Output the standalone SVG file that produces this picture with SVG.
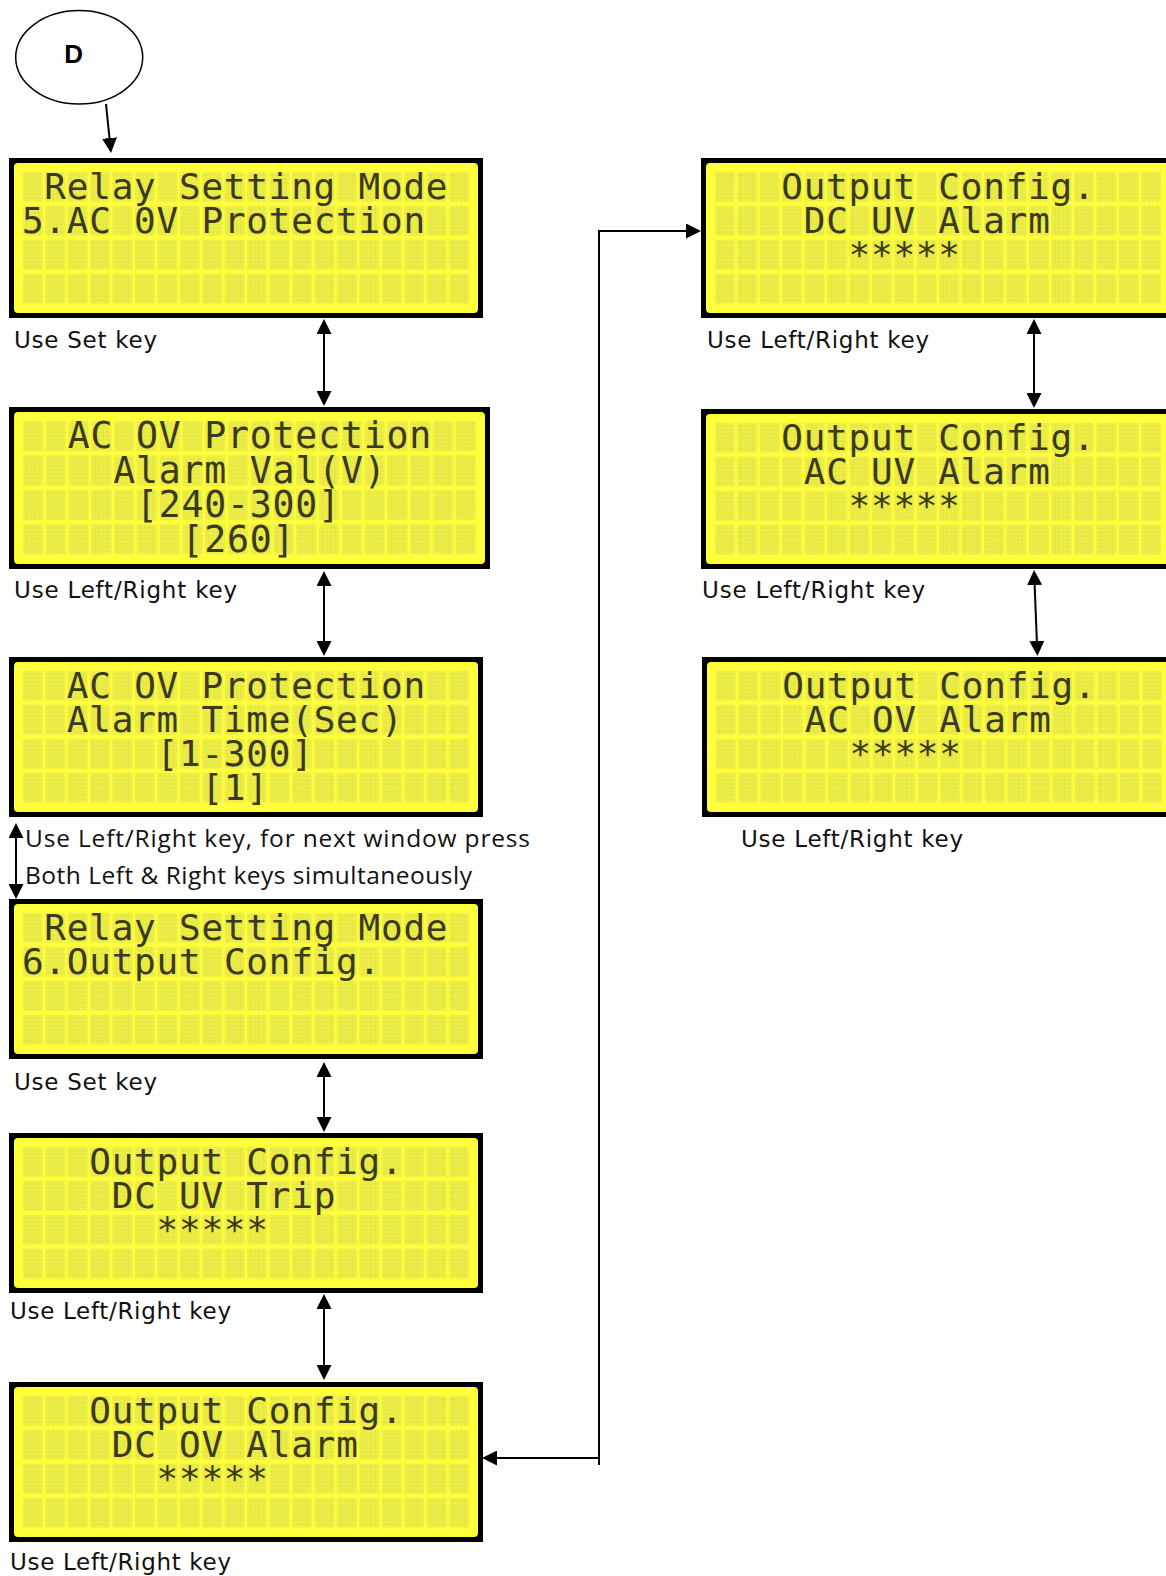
<svg xmlns="http://www.w3.org/2000/svg" width="1166" height="1576" viewBox="0 0 1166 1576">
<style>
.frame{fill:#000}
.screen{fill:#FFFF3C}
.grid{fill:url(#cell)}
.lcd{font-family:"DejaVu Sans Mono","Liberation Mono",monospace;font-size:36px;letter-spacing:0.77px;fill:#3A3A1E}
.lbl{font-family:"DejaVu Sans","Liberation Sans",sans-serif;font-size:23px;fill:#111}
.lbl2{font-family:"Open Sans","Noto Sans",sans-serif;font-size:24.5px;fill:#111}
.conn{fill:none;stroke:#000;stroke-width:2}
</style>
<defs>
<pattern id="cell" patternUnits="userSpaceOnUse" x="13.7" y="13.7" width="22.44" height="34">
<rect width="20" height="30" fill="#EFEF47"/>
<path d="M4,0V30M8,0V30M12,0V30M16,0V30M0,3.75H20M0,7.5H20M0,11.25H20M0,15H20M0,18.75H20M0,22.5H20M0,26.25H20" stroke="#E0E043" stroke-width="0.7"/>
</pattern>
<marker id="ah" viewBox="0 0 15 15" refX="11" refY="7.5" markerWidth="15" markerHeight="15" markerUnits="userSpaceOnUse" orient="auto-start-reverse">
<path d="M0,0L15,7.5L0,15z" fill="#000"/>
</marker>
</defs>

<g id="nodeD">
<ellipse cx="79.2" cy="57.3" rx="63.5" ry="46.7" fill="#fff" stroke="#000" stroke-width="1.5"/>
<text x="73.7" y="62.5" font-family="Liberation Sans,Arial,sans-serif" font-weight="bold" font-size="26" text-anchor="middle">D</text>
</g>

<g id="lcd1" transform="translate(9,158)">
<rect class="frame" width="474" height="160"/>
<rect class="screen" x="5" y="5" width="464" height="150" rx="4"/>
<rect class="grid" x="13.7" y="13.7" width="446.4" height="132"/>
<text class="lcd" x="35.3" y="41">Relay Setting Mode</text>
<text class="lcd" x="12.9" y="75">5.AC 0V Protection</text>
</g>

<g id="lcd2" transform="translate(9,407) scale(1.0148,1.0125)">
<rect class="frame" width="474" height="160"/>
<rect class="screen" x="5" y="5" width="464" height="150" rx="4"/>
<rect class="grid" x="13.7" y="13.7" width="446.4" height="132"/>
<text class="lcd" x="57.8" y="41">AC OV Protection</text>
<text class="lcd" x="102.7" y="75">Alarm Val(V)</text>
<text class="lcd" x="125.1" y="109">[240-300]</text>
<text class="lcd" x="170.0" y="143">[260]</text>
</g>

<g id="lcd3" transform="translate(9,657)">
<rect class="frame" width="474" height="160"/>
<rect class="screen" x="5" y="5" width="464" height="150" rx="4"/>
<rect class="grid" x="13.7" y="13.7" width="446.4" height="132"/>
<text class="lcd" x="57.8" y="41">AC OV Protection</text>
<text class="lcd" x="57.8" y="75">Alarm Time(Sec)</text>
<text class="lcd" x="147.5" y="109">[1-300]</text>
<text class="lcd" x="192.4" y="143">[1]</text>
</g>

<g id="lcd4" transform="translate(9,899)">
<rect class="frame" width="474" height="160"/>
<rect class="screen" x="5" y="5" width="464" height="150" rx="4"/>
<rect class="grid" x="13.7" y="13.7" width="446.4" height="132"/>
<text class="lcd" x="35.3" y="41">Relay Setting Mode</text>
<text class="lcd" x="12.9" y="75">6.Output Config.</text>
</g>

<g id="lcd5" transform="translate(9,1133)">
<rect class="frame" width="474" height="160"/>
<rect class="screen" x="5" y="5" width="464" height="150" rx="4"/>
<rect class="grid" x="13.7" y="13.7" width="446.4" height="132"/>
<text class="lcd" x="80.2" y="41">Output Config.</text>
<text class="lcd" x="102.7" y="75">DC UV Trip</text>
<text class="lcd" x="147.5" y="109">*****</text>
</g>

<g id="lcd6" transform="translate(9,1382)">
<rect class="frame" width="474" height="160"/>
<rect class="screen" x="5" y="5" width="464" height="150" rx="4"/>
<rect class="grid" x="13.7" y="13.7" width="446.4" height="132"/>
<text class="lcd" x="80.2" y="41">Output Config.</text>
<text class="lcd" x="102.7" y="75">DC OV Alarm</text>
<text class="lcd" x="147.5" y="109">*****</text>
</g>

<g id="lcd7" transform="translate(701,158)">
<rect class="frame" width="474" height="160"/>
<rect class="screen" x="5" y="5" width="464" height="150" rx="4"/>
<rect class="grid" x="13.7" y="13.7" width="446.4" height="132"/>
<text class="lcd" x="80.2" y="41">Output Config.</text>
<text class="lcd" x="102.7" y="75">DC UV Alarm</text>
<text class="lcd" x="147.5" y="109">*****</text>
</g>

<g id="lcd8" transform="translate(701,409)">
<rect class="frame" width="474" height="160"/>
<rect class="screen" x="5" y="5" width="464" height="150" rx="4"/>
<rect class="grid" x="13.7" y="13.7" width="446.4" height="132"/>
<text class="lcd" x="80.2" y="41">Output Config.</text>
<text class="lcd" x="102.7" y="75">AC UV Alarm</text>
<text class="lcd" x="147.5" y="109">*****</text>
</g>

<g id="lcd9" transform="translate(702,657)">
<rect class="frame" width="474" height="160"/>
<rect class="screen" x="5" y="5" width="464" height="150" rx="4"/>
<rect class="grid" x="13.7" y="13.7" width="446.4" height="132"/>
<text class="lcd" x="80.2" y="41">Output Config.</text>
<text class="lcd" x="102.7" y="75">AC OV Alarm</text>
<text class="lcd" x="147.5" y="109">*****</text>
</g>

<g id="labels">
<text class="lbl" x="14" y="348" textLength="143" lengthAdjust="spacing">Use Set key</text>
<text class="lbl" x="14" y="598" textLength="223" lengthAdjust="spacing">Use Left/Right key</text>
<text class="lbl2" x="25" y="847" textLength="505" lengthAdjust="spacing">Use Left/Right key, for next window press</text>
<text class="lbl2" x="25" y="884" textLength="447" lengthAdjust="spacing">Both Left &amp; Right keys simultaneously</text>
<text class="lbl" x="14" y="1090" textLength="143" lengthAdjust="spacing">Use Set key</text>
<text class="lbl" x="10" y="1319" textLength="221" lengthAdjust="spacing">Use Left/Right key</text>
<text class="lbl" x="10" y="1570" textLength="221" lengthAdjust="spacing">Use Left/Right key</text>
<text class="lbl" x="707" y="348" textLength="222" lengthAdjust="spacing">Use Left/Right key</text>
<text class="lbl" x="702" y="598" textLength="223" lengthAdjust="spacing">Use Left/Right key</text>
<text class="lbl" x="741" y="847" textLength="222" lengthAdjust="spacing">Use Left/Right key</text>
</g>

<g id="connectors">
<path class="conn" d="M106,104L110.6,149" marker-end="url(#ah)"/>
<path class="conn" d="M324,323V402" marker-start="url(#ah)" marker-end="url(#ah)"/>
<path class="conn" d="M324,575V652" marker-start="url(#ah)" marker-end="url(#ah)"/>
<path class="conn" d="M16,827V895" marker-start="url(#ah)" marker-end="url(#ah)"/>
<path class="conn" d="M324,1066V1128" marker-start="url(#ah)" marker-end="url(#ah)"/>
<path class="conn" d="M324,1298V1376" marker-start="url(#ah)" marker-end="url(#ah)"/>
<path class="conn" d="M1034,323V404" marker-start="url(#ah)" marker-end="url(#ah)"/>
<path class="conn" d="M1034.2,574L1037.3,652" marker-start="url(#ah)" marker-end="url(#ah)"/>
<path class="conn" d="M599,1465V231H697" marker-end="url(#ah)"/>
<path class="conn" d="M599,1458H486" marker-end="url(#ah)"/>
</g>
</svg>
